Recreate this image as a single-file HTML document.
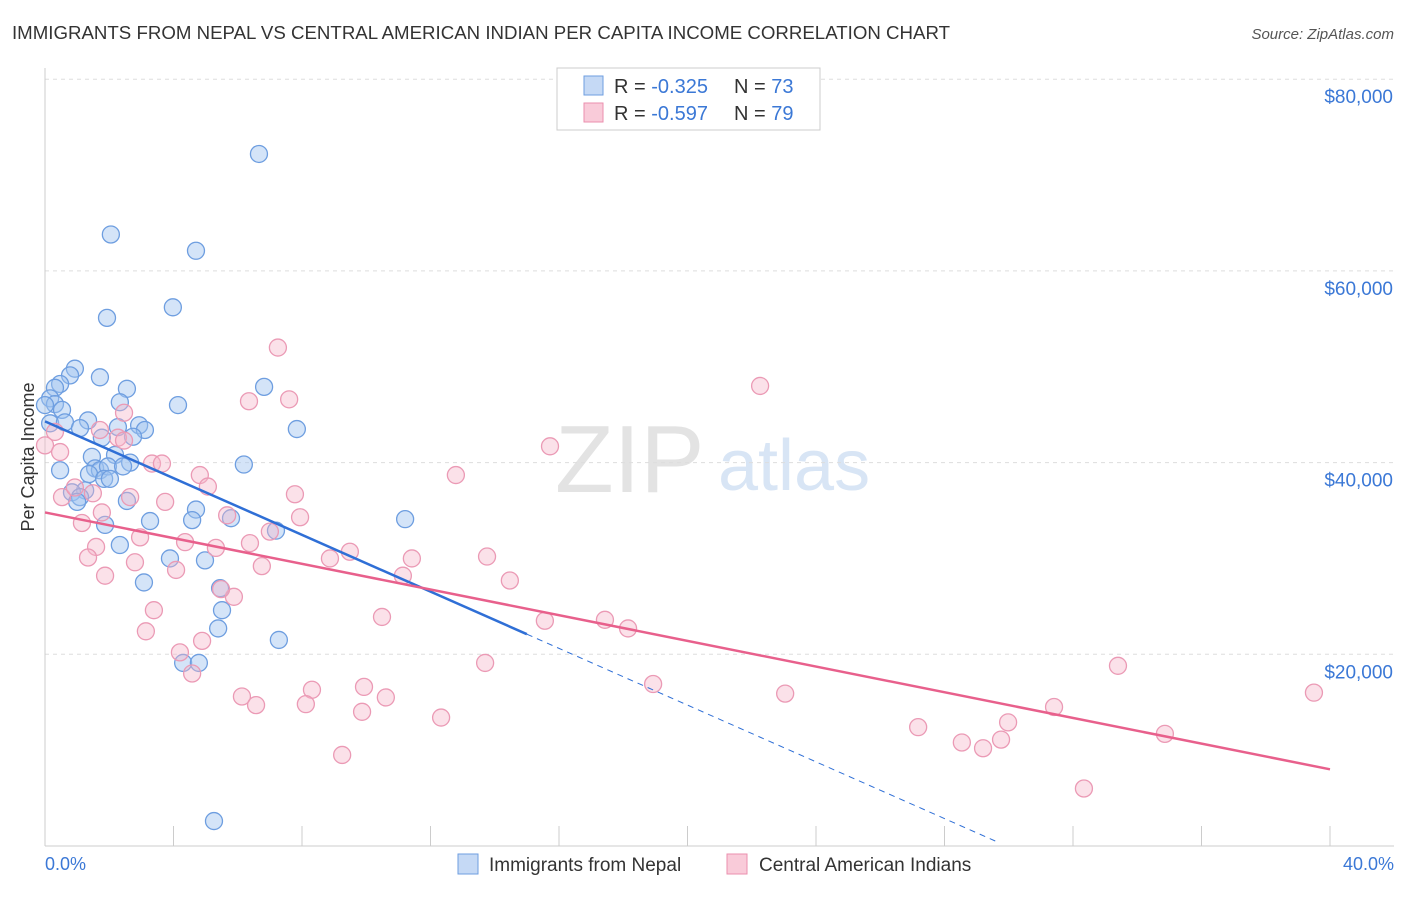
<!DOCTYPE html>
<html><head><meta charset="utf-8"><style>
body{margin:0;background:#fff;font-family:"Liberation Sans",sans-serif;}
svg text{font-family:"Liberation Sans",sans-serif;}
</style></head><body>
<svg id="chart" width="1406" height="892">
<text x="12" y="39" font-size="18" fill="#333" textLength="938" lengthAdjust="spacingAndGlyphs">IMMIGRANTS FROM NEPAL VS CENTRAL AMERICAN INDIAN PER CAPITA INCOME CORRELATION CHART</text>
<text x="1394" y="39" font-size="15" fill="#555" font-style="italic" text-anchor="end">Source: ZipAtlas.com</text>
<text transform="translate(34,457) rotate(-90)" font-size="18" fill="#333" text-anchor="middle">Per Capita Income</text>
<text x="555" y="492" font-size="96" fill="#e3e3e3" font-family="Liberation Serif">ZIP</text>
<text x="718" y="490" font-size="72" fill="#d8e5f5">atlas</text>
<g id="grid"></g><g id="axes"></g><g id="pts"></g><g id="lines"></g>
<g>
<rect x="557" y="68" width="263" height="62" fill="#fff" stroke="#ccc"/>
<rect x="584" y="76" width="19" height="19" fill="#c5d9f5" stroke="#6e9ee0"/>
<text x="614" y="93" font-size="20" fill="#333">R = <tspan fill="#3b78d6">-0.325</tspan></text>
<text x="734" y="93" font-size="20" fill="#333">N = <tspan fill="#3b78d6">73</tspan></text>
<rect x="584" y="103" width="19" height="19" fill="#f9cbd9" stroke="#eb8fae"/>
<text x="614" y="120" font-size="20" fill="#333">R = <tspan fill="#3b78d6">-0.597</tspan></text>
<text x="734" y="120" font-size="20" fill="#333">N = <tspan fill="#3b78d6">79</tspan></text>
</g>
<g>
<rect x="458" y="854" width="20" height="20" fill="#c5d9f5" stroke="#6e9ee0"/>
<text x="489" y="871" font-size="19" fill="#333">Immigrants from Nepal</text>
<rect x="727" y="854" width="20" height="20" fill="#f9cbd9" stroke="#eb8fae"/>
<text x="759" y="871" font-size="19" fill="#333">Central American Indians</text>
</g>
<text x="45" y="870" font-size="18" fill="#3b78d6">0.0%</text>
<text x="1394" y="870" font-size="18" fill="#3b78d6" text-anchor="end">40.0%</text>
</svg>
<script>
const yTicks=[20000,40000,60000,80000];
const yTickLabels=["$20,000","$40,000","$60,000","$80,000"];
const xTicks=[0,4,8,12,16,20,24,28,32,36,40];
const nepalX=[6.66,2.05,4.70,1.93,3.98,0.93,0.78,0.47,0.31,1.71,2.55,6.82,0.16,0.31,0.53,0,0.16,0.62,1.34,1.09,2.33,4.14,2.93,3.11,7.84,1.77,2.74,2.27,1.46,2.18,2.65,6.19,1.56,1.71,1.96,2.43,1.37,1.84,1.25,0.84,1.09,1.0,2.55,1.87,3.27,4.70,4.58,5.79,7.19,11.21,2.33,3.89,4.98,3.08,5.45,5.51,5.39,4.30,4.79,7.28,5.26,2.02,0.47];
const nepalY=[72200,63800,62100,55100,56200,49800,49100,48200,47800,48900,47700,47900,46700,46100,45500,46000,44100,44200,44400,43600,46300,46000,43900,43400,43500,42600,42700,43700,40600,40800,40000,39800,39400,39200,39600,39600,38800,38300,37100,36900,36400,35900,36000,33500,33900,35100,34000,34200,32900,34100,31400,30000,29800,27500,26900,24600,22700,19100,19100,21500,2600,38300,39200];
const caiX=[7.25,22.26,2.46,6.35,7.60,15.72,2.27,0.31,0,0.47,3.33,3.64,12.79,4.82,5.07,0.53,0.93,1.49,2.65,3.74,7.78,7.0,7.94,5.67,1.77,1.15,5.32,6.38,2.96,4.36,9.49,11.42,13.76,1.59,1.34,8.87,2.80,4.08,6.75,11.14,14.47,1.87,5.88,3.39,5.48,10.49,15.56,17.43,18.15,3.14,4.20,4.89,4.58,13.70,33.40,18.93,23.04,39.50,6.13,8.31,9.93,10.61,6.57,8.12,9.87,12.33,27.18,31.41,29.98,34.86,28.54,29.20,29.76,9.25,32.34,2.46,1.71];
const caiY=[52000,48000,45200,46400,46600,41700,42600,43200,41800,41100,39900,39900,38700,38700,37500,36400,37400,36800,36400,35900,36700,32800,34300,34500,34800,33700,31100,31600,32200,31700,30700,30000,30200,31200,30100,30000,29600,28800,29200,28200,27700,28200,26000,24600,26800,23900,23500,23600,22700,22400,20200,21400,18000,19100,18800,16900,15900,16000,15600,16300,16600,15500,14700,14800,14000,13400,12400,14500,12900,11700,10800,10200,11100,9500,6000,42300,43400];
const nepalFit=[44300,-1480];const nepalFitEnd=[15,29.6];
const caiFit=[34800,-670];
const NS="http://www.w3.org/2000/svg";
const X=v=>45+v*32.125, Y=v=>846-v/20000*191.7;
function mk(t,a,p){const e=document.createElementNS(NS,t);for(const k in a)e.setAttribute(k,a[k]);p.appendChild(e);return e;}
const grid=document.getElementById('grid'),axes=document.getElementById('axes'),pts=document.getElementById('pts'),lines=document.getElementById('lines');
yTicks.forEach((v,i)=>{
 const l=mk('line',{x1:45,x2:1394,y1:Y(v),y2:Y(v),stroke:'#ddd','stroke-dasharray':'4,4'},grid);
 
 
 const t=mk('text',{x:1393,y:Y(v)+24,'font-size':19,fill:'#3b78d6','text-anchor':'end'},grid);t.textContent=yTickLabels[i];
 
 
});
mk('line',{x1:45,x2:45,y1:68,y2:846,stroke:'#ccc'},axes);
mk('line',{x1:45,x2:1394,y1:846,y2:846,stroke:'#ccc'},axes);
xTicks.forEach(v=>{const l=mk('line',{x1:X(v),x2:X(v),y1:826,y2:846,stroke:'#ccc'},axes);
 
 });
nepalX.forEach((x,i)=>{const c=mk('circle',{cx:X(x),cy:Y(nepalY[i]),r:8.5,fill:'rgba(160,195,240,0.45)',stroke:'#6e9ee0','stroke-width':1.3},pts);
 
 });
caiX.forEach((x,i)=>{const c=mk('circle',{cx:X(x),cy:Y(caiY[i]),r:8.5,fill:'rgba(246,180,200,0.4)',stroke:'#eb9ab5','stroke-width':1.3},pts);
 
 });
const f=(a,x)=>a[0]+a[1]*x;
let l=mk('line',{x1:X(0),y1:Y(f(nepalFit,0)),x2:X(nepalFitEnd[0]),y2:Y(f(nepalFit,nepalFitEnd[0])),stroke:'#2f6fd6','stroke-width':2.5},lines);


l=mk('line',{x1:X(nepalFitEnd[0]),y1:Y(f(nepalFit,nepalFitEnd[0])),x2:X(nepalFitEnd[1]),y2:Y(f(nepalFit,nepalFitEnd[1])),stroke:'#2f6fd6','stroke-width':1,'stroke-dasharray':'6,5'},lines);


l=mk('line',{x1:X(0),y1:Y(f(caiFit,0)),x2:X(40),y2:Y(f(caiFit,40)),stroke:'#e8608c','stroke-width':2.5},lines);


</script>
</body></html>
